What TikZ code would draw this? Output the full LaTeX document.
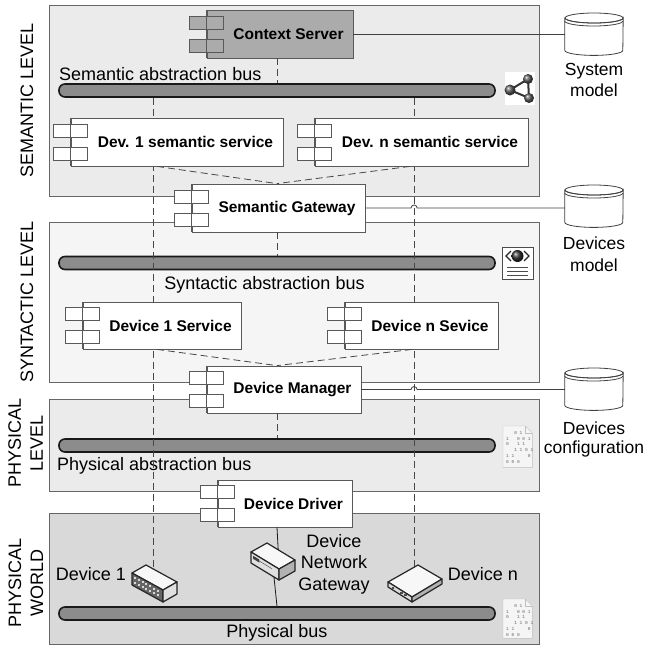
\documentclass[tikz,border=0pt]{standalone}
\usepackage{fontspec}
\setmainfont{Liberation Sans}
\newfontfamily\bitsfont{Liberation Mono}
\usetikzlibrary{calc}

\tikzset{
  layer/.style={draw=black!60, line width=0.8pt, inner sep=0pt, anchor=north west},
  compbox/.style={draw=black!65, fill=white, line width=0.8pt, inner sep=0pt,
    font=\bfseries\fontsize{15.5}{18}\selectfont},
  port/.style={draw=black!65, fill=white, line width=0.8pt},
  compedge/.style={draw=black!65, line width=0.8pt},
  bus/.style={draw=black!90, fill=black!45, line width=1.6pt, rounded corners=6pt,
    minimum height=13pt, minimum width=436pt, inner sep=0pt},
  link/.style={draw=black!72, dash pattern=on 7pt off 4pt, line width=0.8pt},
  wire/.style={draw=black!75, line width=0.8pt},
  lbl/.style={font=\fontsize{18}{21}\selectfont, inner sep=0pt},
  sidelbl/.style={lbl, align=center, rotate=90, font=\fontsize{18}{22}\selectfont},
  storelbl/.style={inner sep=0pt, align=center},
  devedge/.style={draw=black!85, line width=1.2pt, line join=round},
}

% UML component: name, centre, width, height, text
\newcommand\umlcomp[6][]{%
  \node[compbox,minimum width=#4pt,minimum height=#5pt,#1] (#2) at (#3) {\hspace*{17pt}#6};
  \draw[port,#1] ($(#2.west)+(-17,-18)$) rectangle ++(34,13);
  \draw[port,#1] ($(#2.west)+(-17,5)$) rectangle ++(34,13);
  \draw[compedge] (#2.north west) -- (#2.south west);
}

% data store cylinder: name, centre x, top y
\newcommand\dbstore[3]{%
  \node[minimum width=58pt, minimum height=42pt, inner sep=0pt, anchor=north] (#1) at (#2,#3) {};
  \draw[wire, fill=white] ($(#1.north west)+(0,5)$) -- ($(#1.south west)+(0,-5)$)
    arc[start angle=180, end angle=0, x radius=29, y radius=5]
    -- ($(#1.north east)+(0,5)$)
    arc[start angle=0, end angle=180, x radius=29, y radius=5] -- cycle;
  \draw[wire] ($(#1.north)+(0,5)$) ellipse[x radius=29, y radius=5];
  \draw[wire] ($(#1.north west)+(0,8)$) arc[start angle=180, end angle=0, x radius=29, y radius=5];
}

% sheet of binary data: name, left x, top y, height
\newcommand\bitdoc[4]{%
  \node[minimum width=29pt, minimum height=#4pt, inner sep=0pt, anchor=north west] (#1) at (#2,#3) {};
  \filldraw[draw=black!25, fill=black!4] (#1.north west) -- ($(#1.north east)+(-7,0)$)
    -- ($(#1.north east)+(0,7)$) -- (#1.south east) -- (#1.south west) -- cycle;
  \draw[black!25] ($(#1.north east)+(-7,0)$) |- ($(#1.north east)+(0,7)$);
  \node[font=\bitsfont\fontsize{4.5}{5.8}\selectfont, text=black!60, align=left,
    inner sep=0pt, anchor=north west] (#1-bits) at ($(#1.north west)+(3,5)$)
    {~~~0~1\\1~~~0~0~1\\0~~~1~1\\~~~1~1~0~1\\1~1~~~~~0\\0~0~0};
}

\begin{document}
\begin{tikzpicture}[x=1pt,y=-1pt]
\useasboundingbox (0,0) rectangle (648,646);

% ---------- layers ----------
\node[layer, fill=black!8,  minimum width=490pt, minimum height=191pt] (semlayer) at (49,5) {};
\node[layer, fill=black!4,  minimum width=490pt, minimum height=160pt] (synlayer) at (49,222) {};
\node[layer, fill=black!8,  minimum width=490pt, minimum height=92pt]  (phylayer) at (49,399) {};
\node[layer, fill=black!15, minimum width=490pt, minimum height=131pt] (worldlayer) at (49,513) {};

\node[sidelbl] (semname)   at (27,100)   {SEMANTIC LEVEL};
\node[sidelbl] (synname)   at (27,302)   {SYNTACTIC LEVEL};
\node[sidelbl] (phyname)   at (25.5,443) {PHYSICAL\\LEVEL};
\node[sidelbl] (worldname) at (26,583)   {PHYSICAL\\WORLD};

% ---------- buses ----------
\node[bus] (sembus) at (277,90.5)  {};
\node[bus] (synbus) at (277,263)   {};
\node[bus] (phybus) at (277,445.5) {};
\node[bus] (pbus)   at (277,613.5) {};

\node[lbl, anchor=base west] (sembuslbl) at (59,80)     {Semantic abstraction bus};
\node[lbl, anchor=base]      (synbuslbl) at (264.5,289) {Syntactic abstraction bus};
\node[lbl, anchor=base west] (phybuslbl) at (57,470)    {Physical abstraction bus};
\node[lbl, anchor=base]      (pbuslbl)   at (277,637)   {Physical bus};

% ---------- devices (anchor points) ----------
\coordinate (d1a) at (132,573); \coordinate (d1b) at (146,565);
\coordinate (d1c) at (177,582); \coordinate (d1d) at (163,590);
\coordinate (gwa) at (251,552); \coordinate (gwb) at (267,543);
\coordinate (gwc) at (295,560); \coordinate (gwd) at (279,569);
\coordinate (dna) at (388,582); \coordinate (dnb) at (418,565);
\coordinate (dnc) at (442,579); \coordinate (dnd) at (412,597);
\coordinate (dev1)  at ($(d1b)!0.25!(d1c)$);
\coordinate (devn)  at ($(dna)!0.87!(dnb)$);
\coordinate (gwtop) at ($(gwb)!0.4!(gwc)$);
\coordinate (gwbot) at ($(gwa)!0.82!(gwd)+(0,11)$);

% ---------- components ----------
\draw[link] (sembus.south -| dev1) -- (dev1);
\draw[link] (sembus.south -| devn) -- (devn);

\umlcomp[fill=black!33]{cs}{280,34}{146}{48}{Context Server}
\umlcomp{ds1}{177,142}{212}{48}{Dev. 1 semantic service}
\umlcomp{dsn}{421.5,142}{213}{48}{Dev. n semantic service}
\umlcomp{gw}{278.5,208}{173}{48}{Semantic Gateway}
\umlcomp{sv1}{162,325.5}{158}{47}{Device 1 Service}
\umlcomp{svn}{421.5,325.5}{153}{47}{Device n Sevice}
\umlcomp{dm}{284,389.5}{154}{47}{Device Manager}
\umlcomp{dd}{285,503.5}{134}{47}{Device Driver}

% dependencies between levels
\draw[link] ([xshift=-3]cs.south) -- ([xshift=-3]cs.south |- sembus.north);
\draw[link] ([xshift=-20]ds1.south) -- ([xshift=-1.5]gw.north);
\draw[link] ([xshift=-11.5]dsn.south) -- ([xshift=-1.5]gw.north);
\draw[link] ([xshift=-1.5]gw.south) -- ([xshift=-1.5]gw.south |- synbus.north);
\draw[link] ([xshift=-5]sv1.south) -- ([xshift=-7]dm.north);
\draw[link] ([xshift=-9.5]svn.south) -- ([xshift=-7]dm.north);
\draw[link] ([xshift=-7]dm.south) -- ([xshift=-7]dm.south |- phybus.north);

% ---------- data stores ----------
\dbstore{sysdb}{594}{13}
\dbstore{devdb}{594}{185}
\dbstore{cfgdb}{594}{368}

\node[storelbl, font=\fontsize{17.5}{21}\selectfont]   (sysdblbl) at (594,80)  {System\\model};
\node[storelbl, font=\fontsize{17.5}{21.5}\selectfont] (devdblbl) at (594,254) {Devices\\model};
\node[storelbl, font=\fontsize{17.5}{19}\selectfont]   (cfgdblbl) at (594,439) {Devices\\configuration};

\draw[wire] (cs.east) -- (cs.east -| sysdb.west);
\draw[wire] (gw.east) -- ($(gw.east -| devn)+(-3,0)$)
  arc[start angle=180, end angle=360, radius=3] -- (gw.east -| devdb.west);
\draw[wire] (dm.east) -- ($(dm.east -| devn)+(-3,0)$)
  arc[start angle=180, end angle=360, radius=3] -- (dm.east -| cfgdb.west);

% ---------- icons beside the buses ----------
\node[fill=white, inner sep=0pt, minimum width=30pt, minimum height=33pt] (ontoicon) at (520,88.5) {};
\draw[black!80, line width=2pt] (510,90) -- (528,79) -- (529,98) -- cycle;
\shade[ball color=black!65] (510,90) circle (5.5);
\shade[ball color=black!65] (528,79) circle (5);
\shade[ball color=black!65] (529,98) circle (5);

\node[draw=black!70, fill=white, line width=0.8pt, inner sep=0pt,
  minimum width=31pt, minimum height=32pt] (xmlicon) at (517.5,263) {};
\shade[ball color=black!80] (517.5,256) circle (6);
\draw[black!85, line width=1.3pt] (511,251) -- (506,256) -- (511,261);
\draw[black!85, line width=1.3pt] (524,251) -- (529,256) -- (524,261);
\draw[black!70, line width=0.8pt] (507,267) -- (528,267) (507,271) -- (528,271) (507,275) -- (528,275);

\bitdoc{bits1}{503}{426}{41}
\bitdoc{bits2}{503}{599}{39}

% ---------- physical devices ----------
% device 1
\filldraw[devedge, fill=black!3] (d1a) -- (d1b) -- (d1c) -- (d1d) -- cycle;
\filldraw[devedge, fill=black!60] (d1a) -- (d1d) -- ($(d1d)+(0,12)$) -- ($(d1a)+(0,12)$) -- cycle;
\foreach \t in {0.1,0.22,...,0.9}{
  \fill[black!15] ($(d1a)!\t!(d1d)+(-0.9,2.6)$) rectangle ++(2,2);
  \fill[black!15] ($(d1a)!\t!(d1d)+(-0.9,6.8)$) rectangle ++(2,2);
}
\filldraw[devedge, fill=black!12] (d1d) -- (d1c) -- ($(d1c)+(0,12)$) -- ($(d1d)+(0,12)$) -- cycle;

% network gateway
\filldraw[devedge, fill=black!3] (gwa) -- (gwb) -- (gwc) -- (gwd) -- cycle;
\filldraw[devedge, fill=black!12] (gwa) -- (gwd) -- ($(gwd)+(0,11)$) -- ($(gwa)+(0,11)$) -- cycle;
\fill[black!75] ($(gwa)!0.08!(gwd)+(0,2.5)$) -- ($(gwa)!0.3!(gwd)+(0,2.5)$)
  -- ($(gwa)!0.3!(gwd)+(0,5.5)$) -- ($(gwa)!0.08!(gwd)+(0,5.5)$) -- cycle;
\draw[black!60, line width=0.6pt] ($(gwa)!0.3!(gwd)+(0,4)$) -- ($(gwa)!0.75!(gwd)+(0,4)$);
\filldraw[devedge, fill=black!30] (gwd) -- (gwc) -- ($(gwc)+(0,11)$) -- ($(gwd)+(0,11)$) -- cycle;

% device n
\filldraw[devedge, fill=black!3] (dna) -- (dnb) -- (dnc) -- (dnd) -- cycle;
\filldraw[devedge, fill=black!15] (dna) -- (dnd) -- ($(dnd)+(0,5)$) -- ($(dna)+(0,5)$) -- cycle;
\foreach \t in {0.2,0.55,0.72}{
  \fill[black!70] ($(dna)!\t!(dnd)+(-1,1.5)$) rectangle ++(2.5,2);
}
\filldraw[devedge, fill=black!30] (dnd) -- (dnc) -- ($(dnc)+(0,5)$) -- ($(dnd)+(0,5)$) -- cycle;

% driver to gateway to bus
\draw[wire, draw=black!90] ([xshift=-8]dd.south) -- (gwtop);
\draw[wire, draw=black!90] (gwbot) -- (pbus.north);

\node[lbl, anchor=base] (dev1lbl) at (91,580)  {Device 1};
\node[lbl, anchor=base] (devnlbl) at (483,580) {Device n};
\node[lbl, align=center, font=\fontsize{18}{21.5}\selectfont] (gwlbl) at (334,564) {Device\\Network\\Gateway};

\end{tikzpicture}
\end{document}
